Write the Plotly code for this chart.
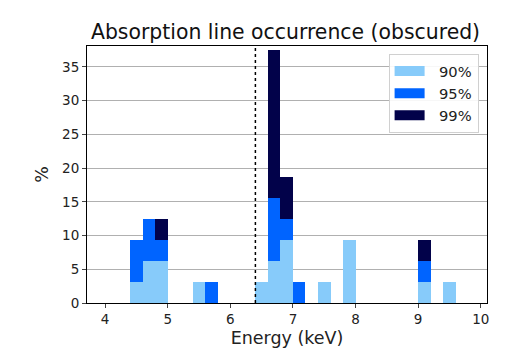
import plotly.graph_objects as go

# Energy bins (lower edges, keV) with a fixed bin width
bin_lo = [4.4, 4.6, 4.8, 5.4, 5.6, 6.4, 6.6, 6.8, 7.0, 7.4, 7.8, 9.0, 9.4]
bin_width = 0.2

# Stacked occurrence (%) per significance level
occ_90 = [3.125, 6.25, 6.25, 3.125, 0, 3.125, 6.25, 9.375, 0, 3.125, 9.375, 3.125, 3.125]
occ_95 = [6.25, 6.25, 3.125, 0, 3.125, 0, 9.375, 3.125, 3.125, 0, 0, 3.125, 0]
occ_99 = [0, 0, 3.125, 0, 0, 0, 21.875, 6.25, 0, 0, 0, 3.125, 0]

fe_line = 6.4  # Fe K-alpha rest energy
x_ticks = [4, 5, 6, 7, 8, 9, 10]
y_ticks = [0, 5, 10, 15, 20, 25, 30, 35]

centers = [b + bin_width / 2 for b in bin_lo]

series = [
    ("90%", occ_90, "#87cbfa"),
    ("95%", occ_95, "#0064ff"),
    ("99%", occ_99, "#02024a"),
]

fig = go.Figure()
for name, vals, color in series:
    fig.add_trace(go.Bar(
        x=centers, y=vals, width=bin_width, name=name, showlegend=False,
        marker=dict(color=color, line=dict(width=0)),
    ))

# Legend entries drawn as wide colour patches, label padded from the patch
pad = "\u00a0\u00a0"
for name, _, color in series:
    fig.add_trace(go.Scatter(
        x=[None], y=[None], mode="lines", name=pad + name, legendgroup=name,
        line=dict(color=color, width=11),
    ))

fig.add_vline(x=fe_line, line=dict(color="black", width=1.5, dash="dot"))

font = "DejaVu Sans"
fig.update_layout(
    width=521, height=359,
    barmode="stack", bargap=0,
    plot_bgcolor="white", paper_bgcolor="white",
    margin=dict(l=87, r=34, t=46, b=56),
    font=dict(family=font, size=13.5, color="#222"),
    title=dict(text="Absorption line occurrence (obscured)", x=0.548, xanchor="center",
               y=0.911, yanchor="middle", font=dict(size=20.4, color="#111")),
    legend=dict(x=0.979, y=0.969, xanchor="right", yanchor="top",
                bgcolor="rgba(255,255,255,0.9)", bordercolor="#d0d0d0", borderwidth=1,
                font=dict(size=14.7), itemwidth=30, tracegroupgap=2,
                traceorder="normal"),
    xaxis=dict(range=[3.71, 10.1], tickvals=x_ticks, ticks="outside", ticklen=4,
               showgrid=False, showline=True, mirror=True, linecolor="black",
               linewidth=1, zeroline=False,
               title=dict(text="Energy (keV)", font=dict(size=17.5), standoff=5)),
    yaxis=dict(range=[0, 38.1], tickvals=y_ticks, ticks="outside", ticklen=4,
               showgrid=True, gridcolor="#b0b0b0", gridwidth=1,
               showline=True, mirror=True, linecolor="black", linewidth=1,
               zeroline=False,
               title=dict(text="%", font=dict(size=17.5), standoff=8)),
)

fig.write_html("out.html")
